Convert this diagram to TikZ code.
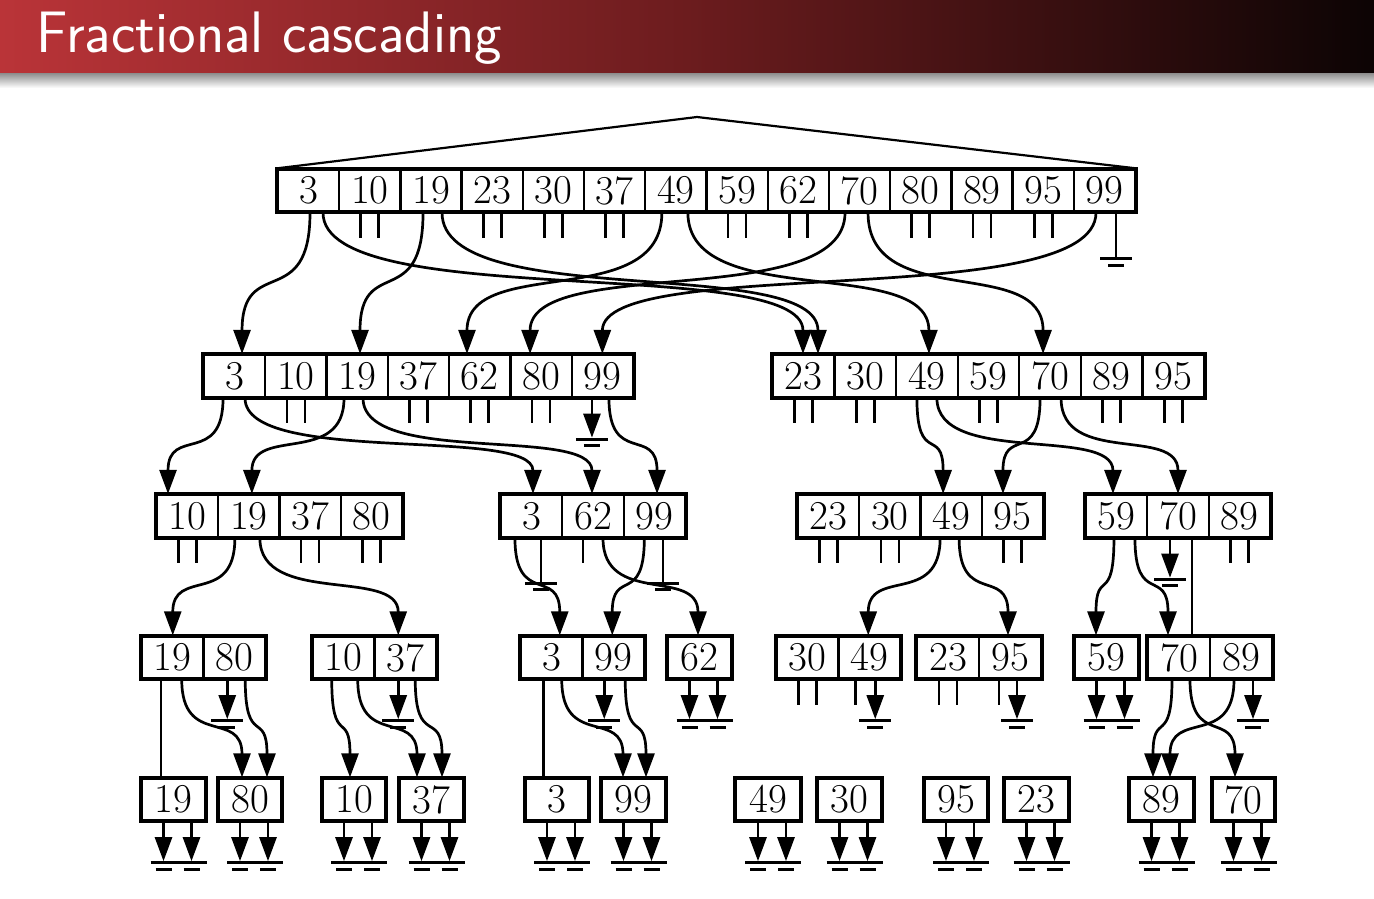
\documentclass[tikz,border=0pt]{standalone}
\usetikzlibrary{arrows.meta,calc}
\definecolor{barL}{RGB}{186,52,56}
\definecolor{barM}{RGB}{108,28,30}
\definecolor{barR}{RGB}{12,4,4}
\tikzset{
  cell/.style={draw, line width=2.3pt, minimum height=42pt, inner sep=0pt, font=\fontsize{41}{43}\selectfont},
  frame/.style={draw, line width=3pt},
  link/.style={line width=2.7pt},
  arr/.style={line width=2.7pt, -{Triangle[length=24pt,width=17pt]}},
  tick/.style={line width=2.7pt},
  gbar/.style={line width=3.2pt},
  cone/.style={line width=2.2pt, line join=miter},
}
\newcommand\mkbox[6]{%
  \pgfmathsetmacro\bw{(#3-#2)/#5}%
  \foreach \v [count=\i] in {#6} {
    \node[cell, minimum width=\bw pt] (#1\i) at ({#2+\bw*(\i-0.5)},#4) {\v};
  }
  \draw[frame] (#11.north west) rectangle (#1#5.south east);
}
\newcommand\cv[5]{%
  \path ([xshift=#2pt]#1.south) coordinate (cs) ([xshift=#4pt]#3.north) coordinate (ce);
  \draw[arr] (cs) .. controls ($(cs)+(0,#5)$) and ($(ce)+(0,-#5)$) .. (ce);
}
\newcommand\tk[2]{\draw[tick] ([xshift=#2pt]#1.south) -- ++(0,25);}
\newcommand\tks[1]{\tk{#1}{-9}\tk{#1}{9}}
\newcommand\gnd[1]{%
  \draw[gbar] ($(#1)+(-16,0)$) -- ++(32,0);
  \draw[gbar] ($(#1)+(-8,6.5)$) -- ++(16,0);}
\newcommand\garr[2]{%
  \path ([xshift=#2pt]#1.south) coordinate (gs) ++(0,41) coordinate (gb);
  \draw[arr] (gs) -- ($(gb)+(0,-1.5)$);
  \gnd{gb}}
\newcommand\gln[3]{%
  \path ([xshift=#2pt]#1.south) coordinate (gs) ++(0,#3) coordinate (gb);
  \draw[link] (gs) -- (gb);
  \gnd{gb}}
\newcommand\leafg[1]{%
  \path ([xshift=-10pt]#1.south) coordinate (la) ++(0,41) coordinate (lab);
  \path ([xshift=18pt]#1.south) coordinate (lb) ++(0,41) coordinate (lbb);
  \draw[arr] (la) -- ($(lab)+(0,-1.5)$);
  \draw[arr] (lb) -- ($(lbb)+(0,-1.5)$);
  \draw[gbar] ($(lab)+(-13,0)$) -- ($(lbb)+(15,0)$);
  \draw[gbar] ($(lab)+(-8,6.5)$) -- ++(16,0);
  \draw[gbar] ($(lbb)+(-8,6.5)$) -- ++(16,0);}
\newcommand\vln[3]{%
  \path ([xshift=#2pt]#1.south) coordinate (vs);
  \draw[link] (vs) -- (vs |- #3.north);}
\begin{document}
\begin{tikzpicture}[x=1pt,y=-1pt]
\useasboundingbox (0,0) rectangle (1374,898);
\fill[white] (0,0) rectangle (1374,898);
\shade[left color=barL, right color=barR, middle color=barM] (0,0) rectangle (1374,73);
\shade[top color=black!45, bottom color=white] (0,73) rectangle (1374,88);
\node[anchor=base west, text=white, font=\sffamily\fontsize{58.5}{62}\selectfont, inner sep=0pt] (title) at (36,52) {Fractional cascading};

\mkbox{A}{278}{1135}{190.5}{14}{3,10,19,23,30,37,49,59,62,70,80,89,95,99}
\mkbox{B}{204}{633}{376}{7}{3,10,19,37,62,80,99}
\mkbox{C}{773}{1204}{376}{7}{23,30,49,59,70,89,95}
\mkbox{D}{157}{402}{516}{4}{10,19,37,80}
\mkbox{E}{501}{685}{516}{3}{3,62,99}
\mkbox{F}{798}{1043}{516}{4}{23,30,49,95}
\mkbox{G}{1086}{1270}{516}{3}{59,70,89}
\mkbox{H}{142}{265}{657.5}{2}{19,80}
\mkbox{I}{313}{436}{657.5}{2}{10,37}
\mkbox{J}{521}{644}{657.5}{2}{3,99}
\mkbox{K}{668}{731}{657.5}{1}{62}
\mkbox{L}{777}{900}{657.5}{2}{30,49}
\mkbox{M}{917}{1041}{657.5}{2}{23,95}
\mkbox{N}{1075}{1138}{657.5}{1}{59}
\mkbox{O}{1148}{1272}{657.5}{2}{70,89}
\mkbox{P}{142}{205}{799.5}{1}{19}
\mkbox{Q}{219}{281}{799.5}{1}{80}
\mkbox{R}{323}{385}{799.5}{1}{10}
\mkbox{S}{400}{463}{799.5}{1}{37}
\mkbox{T}{526}{588}{799.5}{1}{3}
\mkbox{U}{602}{665}{799.5}{1}{99}
\mkbox{V}{736}{800}{799.5}{1}{49}
\mkbox{W}{818}{881}{799.5}{1}{30}
\mkbox{X}{925}{987}{799.5}{1}{95}
\mkbox{Y}{1005}{1068}{799.5}{1}{23}
\mkbox{Z}{1130}{1193}{799.5}{1}{89}
\mkbox{ZZ}{1213}{1274}{799.5}{1}{70}

\coordinate (apex) at (697,117);
\draw[cone] (A1.north west) -- (apex) -- (A14.north east);

% row 1 -> row 2
\cv{A1}{1.4}{B1}{7.4}{100}
\cv{A1}{14.4}{C1}{-0.8}{100}
\cv{A3}{-8}{B3}{2.8}{100}
\cv{A3}{11}{C1}{14.2}{100}
\cv{A7}{-14}{B5}{-12.8}{100}
\cv{A7}{12}{C3}{2}{100}
\cv{A10}{-14.5}{B6}{-11}{100}
\cv{A10}{8.5}{C5}{-7}{100}
\cv{A14}{-8.4}{B7}{0}{100}
\gln{A14}{11.6}{46}
\tks{A2}\tks{A4}\tks{A5}\tks{A6}\tks{A8}\tks{A9}\tks{A11}\tks{A12}\tks{A13}

% row 2 -> row 3
\cv{B1}{-11.6}{D1}{-19.6}{68}
\cv{B1}{10.4}{E1}{1.3}{68}
\cv{B3}{-13.2}{D2}{3}{68}
\cv{B3}{5.8}{E2}{-1}{68}
\cv{B7}{6.6}{E3}{2.7}{68}
\garr{B7}{-10.4}
\tks{B2}\tks{B4}\tks{B5}\tks{B6}
\cv{C3}{-10}{F3}{-8}{68}
\cv{C3}{10}{G1}{-3.7}{68}
\cv{C5}{-10}{F4}{-9.4}{68}
\cv{C5}{11}{G2}{0}{68}
\tks{C1}\tks{C2}\tks{C4}\tks{C6}\tks{C7}

% row 3 -> row 4
\tks{D1}\tks{D3}\tks{D4}
\cv{D2}{-14}{H1}{0}{68}
\cv{D2}{11}{I2}{-7}{68}
\cv{E1}{-16.7}{J1}{8}{68}
\gln{E1}{9.3}{45}
\tk{E2}{-10}
\cv{E2}{10}{K1}{-1.5}{68}
\cv{E3}{-10}{J2}{-1}{68}
\gln{E3}{8.7}{45}
\tks{F1}\tks{F2}\tks{F4}
\cv{F3}{-11}{L2}{-1}{68}
\cv{F3}{8}{M2}{-2}{68}
\cv{G1}{-2.7}{N1}{-10.5}{68}
\cv{G1}{18.3}{O1}{-11}{68}
\garr{G2}{-8}
\vln{G2}{14}{O1}
\tks{G3}

% row 4 -> row 5
\vln{H1}{-11.75}{P1}
\cv{H1}{9}{Q1}{-8}{68}
\garr{H2}{-7}
\cv{H2}{11}{Q1}{17}{68}
\cv{I1}{-12}{R1}{-4}{68}
\cv{I1}{14}{S1}{-14.5}{68}
\garr{I2}{-7}
\cv{I2}{10}{S1}{10.5}{68}
\vln{J1}{-8}{T1}
\cv{J1}{10}{U1}{-10.5}{68}
\garr{J2}{-9}
\cv{J2}{12}{U1}{12.5}{68}
\leafg{K1}
\tks{L1}\tk{L2}{-14}\garr{L2}{6}
\tks{M1}\tk{M2}{-11}\garr{M2}{7}
\leafg{N1}
\cv{O1}{-7}{Z1}{-8.5}{68}
\cv{O1}{11}{ZZ1}{-8.5}{68}
\cv{O2}{-7}{Z1}{8.5}{68}
\garr{O2}{12}

% leaves
\leafg{P1}\leafg{Q1}\leafg{R1}\leafg{S1}\leafg{T1}\leafg{U1}
\leafg{V1}\leafg{W1}\leafg{X1}\leafg{Y1}\leafg{Z1}\leafg{ZZ1}
\end{tikzpicture}
\end{document}
